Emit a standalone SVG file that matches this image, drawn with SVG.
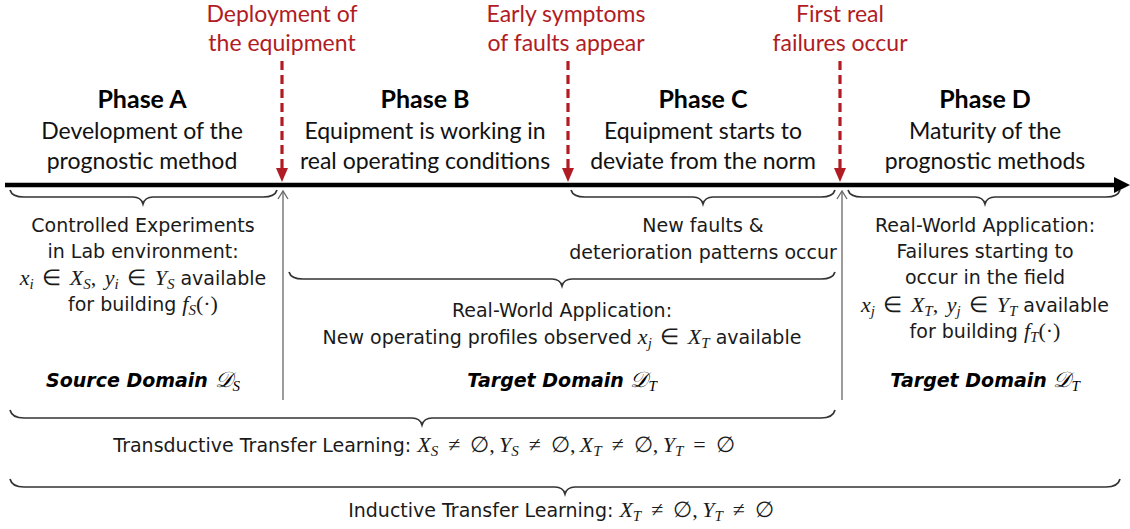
<svg xmlns="http://www.w3.org/2000/svg" width="1130" height="529" viewBox="0 0 1130 529">
<defs>
<style>
.cal{font-family:Lato,"Open Sans",sans-serif;font-size:23px;fill:#111;text-anchor:middle}
.ph{font-family:Lato,"Open Sans",sans-serif;font-size:25px;font-weight:bold;fill:#000;text-anchor:middle}
.red{font-family:Lato,"Open Sans",sans-serif;font-size:23px;fill:#b11c24;text-anchor:middle}
.t{font-family:"DejaVu Sans",sans-serif;font-size:19px;fill:#1a1a1a;text-anchor:middle}
.dom{font-family:"DejaVu Sans",sans-serif;font-size:19px;font-weight:bold;font-style:italic;fill:#000;text-anchor:middle}
.m{font-family:"Liberation Serif",serif;font-style:italic;font-size:22px}
.ms{font-family:"Liberation Serif",serif;font-style:italic;font-size:15px}
.mr{font-family:"Liberation Serif",serif;font-style:normal;font-size:22px;word-spacing:3px}
.mw{font-family:"Liberation Serif",serif;font-style:normal;font-size:22px;word-spacing:4.5px}
.brace{fill:none;stroke:#333;stroke-width:1.7}
.dash{stroke:#b11c24;stroke-width:3.2;stroke-dasharray:9 5;fill:none}
.thin{stroke:#666;stroke-width:1.3;fill:none}
</style>
</defs>

<g id="connectors">
  <!-- main timeline -->
  <line x1="5" y1="185" x2="1118" y2="185" stroke="#000" stroke-width="4.5"/>
  <polygon points="1114,177 1130,185 1114,193" fill="#000"/>
  <!-- red event arrows -->
  <line class="dash" x1="282" y1="61" x2="282" y2="169"/>
  <polygon points="276,168 288,168 282,182" fill="#b11c24"/>
  <line class="dash" x1="568" y1="61" x2="568" y2="169"/>
  <polygon points="562,168 574,168 568,182" fill="#b11c24"/>
  <line class="dash" x1="840" y1="61" x2="840" y2="169"/>
  <polygon points="834,168 846,168 840,182" fill="#b11c24"/>
  <!-- thin gray arrows -->
  <line class="thin" x1="283" y1="400" x2="283" y2="191"/>
  <polyline class="thin" points="278,199 283,191 288,199"/>
  <line class="thin" x1="842" y1="400" x2="842" y2="191"/>
  <polyline class="thin" points="837,199 842,191 847,199"/>
  <!-- braces -->
  <path class="brace" d="M10,190 Q12,197 24,197 L133,197 Q141,197 143,204 Q145,197 153,197 L263,197 Q275,197 277,190"/>
  <path class="brace" d="M571,190 Q573,197 585,197 L693,197 Q701,197 703,204 Q705,197 713,197 L821,197 Q833,197 835,190"/>
  <path class="brace" d="M848,190 Q850,197 862,197 L975,197 Q983,197 985,204 Q987,197 995,197 L1106,197 Q1118,197 1120,190"/>
  <path class="brace" d="M289,272 Q291,279 303,279 L552,279 Q560,279 562,286 Q564,279 572,279 L821,279 Q833,279 835,272"/>
  <path class="brace" d="M10,410 Q12,418 24,418 L412,418 Q420,418 422,425 Q424,418 432,418 L821,418 Q833,418 835,410"/>
  <path class="brace" d="M10,479 Q12,487 24,487 L555,487 Q563,487 565,494 Q567,487 575,487 L1106,487 Q1118,487 1120,479"/>
</g>

<g id="event-deployment">
  <text class="red" x="282" y="22">Deployment of</text>
  <text class="red" x="282" y="51">the equipment</text>
</g>
<g id="event-symptoms">
  <text class="red" x="566" y="22">Early symptoms</text>
  <text class="red" x="566" y="51">of faults appear</text>
</g>
<g id="event-failures">
  <text class="red" x="840" y="22">First real</text>
  <text class="red" x="840" y="51">failures occur</text>
</g>

<g id="phase-a">
  <text class="ph" x="142" y="108">Phase A</text>
  <text class="cal" x="142" y="139">Development of the</text>
  <text class="cal" x="142" y="169">prognostic method</text>
</g>
<g id="phase-b">
  <text class="ph" x="425" y="108">Phase B</text>
  <text class="cal" x="425" y="139">Equipment is working in</text>
  <text class="cal" x="425" y="169">real operating conditions</text>
</g>
<g id="phase-c">
  <text class="ph" x="703" y="108">Phase C</text>
  <text class="cal" x="703" y="139">Equipment starts to</text>
  <text class="cal" x="703" y="169">deviate from the norm</text>
</g>
<g id="phase-d">
  <text class="ph" x="985" y="108">Phase D</text>
  <text class="cal" x="985" y="139">Maturity of the</text>
  <text class="cal" x="985" y="169">prognostic methods</text>
</g>

<g id="source-domain">
  <text class="t" x="143" y="232">Controlled Experiments</text>
  <text class="t" x="143" y="258">in Lab environment:</text>
  <text class="t" x="143" y="285"><tspan class="m">x</tspan><tspan class="ms" dy="4">i</tspan><tspan class="mr" dy="-4"> ∈ </tspan><tspan class="m">X</tspan><tspan class="ms" dy="4">S</tspan><tspan class="mr" dy="-4">, </tspan><tspan class="m">y</tspan><tspan class="ms" dy="4">i</tspan><tspan class="mr" dy="-4"> ∈ </tspan><tspan class="m">Y</tspan><tspan class="ms" dy="4">S</tspan><tspan dy="-4"> available</tspan></text>
  <text class="t" x="143" y="311">for building <tspan class="m">f</tspan><tspan class="ms" dy="4">S</tspan><tspan class="mr" dy="-4">(·)</tspan></text>
  <text class="dom" x="143" y="387">Source Domain <tspan class="m" font-weight="normal">𝒟</tspan><tspan class="ms" font-weight="normal" dy="4">S</tspan></text>
</g>

<g id="new-faults">
  <text class="t" x="703" y="232">New faults &amp;</text>
  <text class="t" x="703" y="259">deterioration patterns occur</text>
</g>

<g id="target-domain-bc">
  <text class="t" x="562" y="317">Real-World Application:</text>
  <text class="t" x="562" y="344">New operating profiles observed <tspan class="m">x</tspan><tspan class="ms" dy="4">j</tspan><tspan class="mr" dy="-4"> ∈ </tspan><tspan class="m">X</tspan><tspan class="ms" dy="4">T</tspan><tspan dy="-4"> available</tspan></text>
  <text class="dom" x="562" y="387">Target Domain <tspan class="m" font-weight="normal">𝒟</tspan><tspan class="ms" font-weight="normal" dy="4">T</tspan></text>
</g>

<g id="target-domain-d">
  <text class="t" x="985" y="232">Real-World Application:</text>
  <text class="t" x="985" y="258">Failures starting to</text>
  <text class="t" x="985" y="284">occur in the field</text>
  <text class="t" x="985" y="312"><tspan class="m">x</tspan><tspan class="ms" dy="4">j</tspan><tspan class="mr" dy="-4"> ∈ </tspan><tspan class="m">X</tspan><tspan class="ms" dy="4">T</tspan><tspan class="mr" dy="-4">, </tspan><tspan class="m">y</tspan><tspan class="ms" dy="4">j</tspan><tspan class="mr" dy="-4"> ∈ </tspan><tspan class="m">Y</tspan><tspan class="ms" dy="4">T</tspan><tspan dy="-4"> available</tspan></text>
  <text class="t" x="985" y="338">for building <tspan class="m">f</tspan><tspan class="ms" dy="4">T</tspan><tspan class="mr" dy="-4">(·)</tspan></text>
  <text class="dom" x="985" y="387">Target Domain <tspan class="m" font-weight="normal">𝒟</tspan><tspan class="ms" font-weight="normal" dy="4">T</tspan></text>
</g>

<g id="transductive">
  <text class="t" x="424" y="452">Transductive Transfer Learning:  <tspan class="m">X</tspan><tspan class="ms" dy="4">S</tspan><tspan class="mw" dy="-4"> ≠ ∅,&#8201;</tspan><tspan class="m">Y</tspan><tspan class="ms" dy="4">S</tspan><tspan class="mw" dy="-4"> ≠ ∅,&#8201;</tspan><tspan class="m">X</tspan><tspan class="ms" dy="4">T</tspan><tspan class="mw" dy="-4"> ≠ ∅,&#8201;</tspan><tspan class="m">Y</tspan><tspan class="ms" dy="4">T</tspan><tspan class="mw" dy="-4"> = ∅</tspan></text>
</g>
<g id="inductive">
  <text class="t" x="561" y="517">Inductive Transfer Learning:  <tspan class="m">X</tspan><tspan class="ms" dy="4">T</tspan><tspan class="mw" dy="-4"> ≠ ∅,&#8201;</tspan><tspan class="m">Y</tspan><tspan class="ms" dy="4">T</tspan><tspan class="mw" dy="-4"> ≠ ∅</tspan></text>
</g>
</svg>
